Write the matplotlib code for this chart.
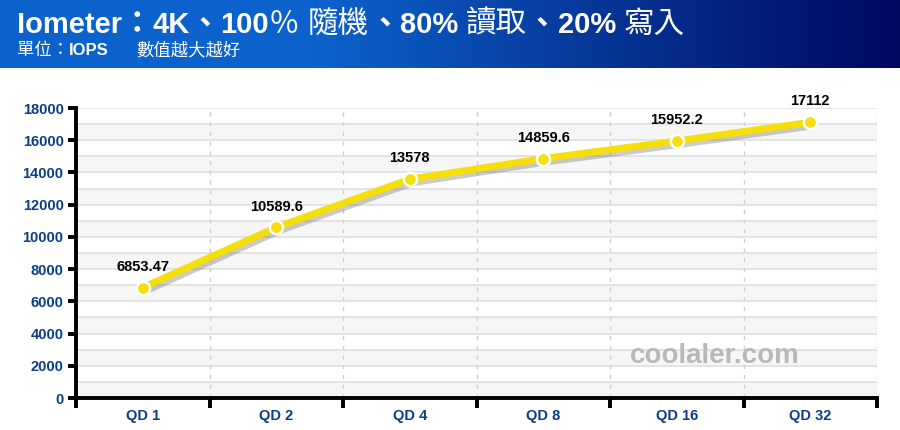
import numpy as np
import matplotlib
matplotlib.use("Agg")
import matplotlib.pyplot as plt
import matplotlib.patheffects as pe
from matplotlib.transforms import offset_copy

categories = ["QD 1", "QD 2", "QD 4", "QD 8", "QD 16", "QD 32"]
values = [6853.47, 10589.6, 13578, 14859.6, 15952.2, 17112]
value_labels = ["6853.47", "10589.6", "13578", "14859.6", "15952.2", "17112"]
yticks = [0, 2000, 4000, 6000, 8000, 10000, 12000, 14000, 16000, 18000]
# title pieces: (text, bold?)
title_parts = [("Iometer", True), ("：", True), ("4K", True), ("、", True), ("100", True),
               ("％ ", False), ("隨機", False), ("、", True), ("80% ", True), ("讀取", False),
               ("、", True), ("20% ", True), ("寫入", False)]
subtitle_parts = [("單位：", False), ("IOPS", True), ("　  ", False), ("數值越大越好", False)]

FAM = ["Liberation Sans", "Noto Sans CJK TC", "DejaVu Sans"]
plt.rcParams["font.family"] = FAM

W, H = 900, 430
fig = plt.figure(figsize=(W / 100, H / 100), dpi=100)
renderer = fig.canvas.get_renderer()


def draw_parts(parts, x0, y0, size_bold, size_reg):
    x = x0
    for txt, bold in parts:
        is_ascii = all(ord(c) < 128 for c in txt.strip()) and txt.strip() != ""
        size = size_bold if (bold and is_ascii) else size_reg
        if not is_ascii and bold:
            size = size_reg
        t = fig.text(x / W, 1 - y0 / H, txt, color="white", fontsize=size,
                     fontweight="bold" if bold else "normal", family=FAM,
                     va="baseline", ha="left")
        bb = t.get_window_extent(renderer)
        x += bb.width


# Banner
bax = fig.add_axes([0, 1 - 68 / H, 1, 68 / H])
c1 = np.array([0x0c, 0x62, 0xcc]) / 255
c2 = np.array([0x00, 0x08, 0x60]) / 255
t = np.linspace(0, 1, 512)
t2 = np.clip((t - 0.35) / 0.65, 0, 1)
grad = (c1[None, :] * (1 - t2[:, None]) + c2[None, :] * t2[:, None])[None, :, :]
bax.imshow(grad, aspect="auto", extent=[0, 1, 0, 1])
bax.set_xlim(0, 1); bax.set_ylim(0, 1)
bax.axis("off")
draw_parts(title_parts, 17, 33, 21, 22)
draw_parts(subtitle_parts, 17, 55, 12, 12.5)

# Main axes
left, right, top, bottom = 76, 877, 108, 398
ax = fig.add_axes([left / W, 1 - bottom / H, (right - left) / W, (bottom - top) / H])
n = len(categories)
x = np.arange(n)
ax.set_xlim(-0.5, n - 0.5)
ax.set_ylim(0, 18000)

for k in range(0, 18000, 2000):
    ax.axhspan(k, k + 1000, color="#f6f6f6", zorder=0, lw=0)
for k in range(1000, 18001, 1000):
    ax.axhline(k, color="#dcdcdc", lw=1.1, zorder=1)
for b in np.arange(0.5, n, 1):
    ax.axvline(b, color="#cfcfcf", lw=1, ls=(0, (3, 4)), zorder=1)

ax.plot(x, values, color="#f5df0a", lw=5, solid_capstyle="round", zorder=3,
        path_effects=[pe.SimpleLineShadow(offset=(2, -2.5), shadow_color="#555555", alpha=0.3),
                      pe.Normal()])
ax.scatter(x, values, s=90, color="#f5df0a", edgecolors="white", linewidths=1.8, zorder=4)

for xi, v, lab in zip(x, values, value_labels):
    ax.annotate(lab, (xi, v), xytext=(0, 10), textcoords="offset points", ha="center",
                va="bottom", fontsize=10.5, fontweight="bold", color="black", zorder=5)

# Watermark
ax.text(0.692, 0.145, "coolaler.com", transform=ax.transAxes, fontsize=20, fontweight="bold",
        color="#b8b8b8", ha="left", va="center", zorder=2)

for s in ["top", "right"]:
    ax.spines[s].set_visible(False)
for s in ["left", "bottom"]:
    ax.spines[s].set_linewidth(2.8)
    ax.spines[s].set_color("black")

ax.set_yticks(yticks)
ax.set_yticklabels([str(v) for v in yticks])
ax.set_xticks(np.arange(-0.5, n, 1), minor=False)
ax.set_xticklabels([])
ax.set_xticks(x, minor=True)
ax.set_xticklabels(categories, minor=True)
ax.tick_params(axis="x", which="major", length=7, width=2.8, color="black", direction="out")
ax.tick_params(axis="x", which="minor", length=0, pad=8)
ax.tick_params(axis="y", length=6, width=2.8, color="black", direction="out", pad=3)
for lab in ax.get_yticklabels() + ax.get_xticklabels(minor=True):
    lab.set_color("#0b3d86")
    lab.set_fontweight("bold")
    lab.set_fontsize(10.5)

fig.savefig("out.png", dpi=100)
